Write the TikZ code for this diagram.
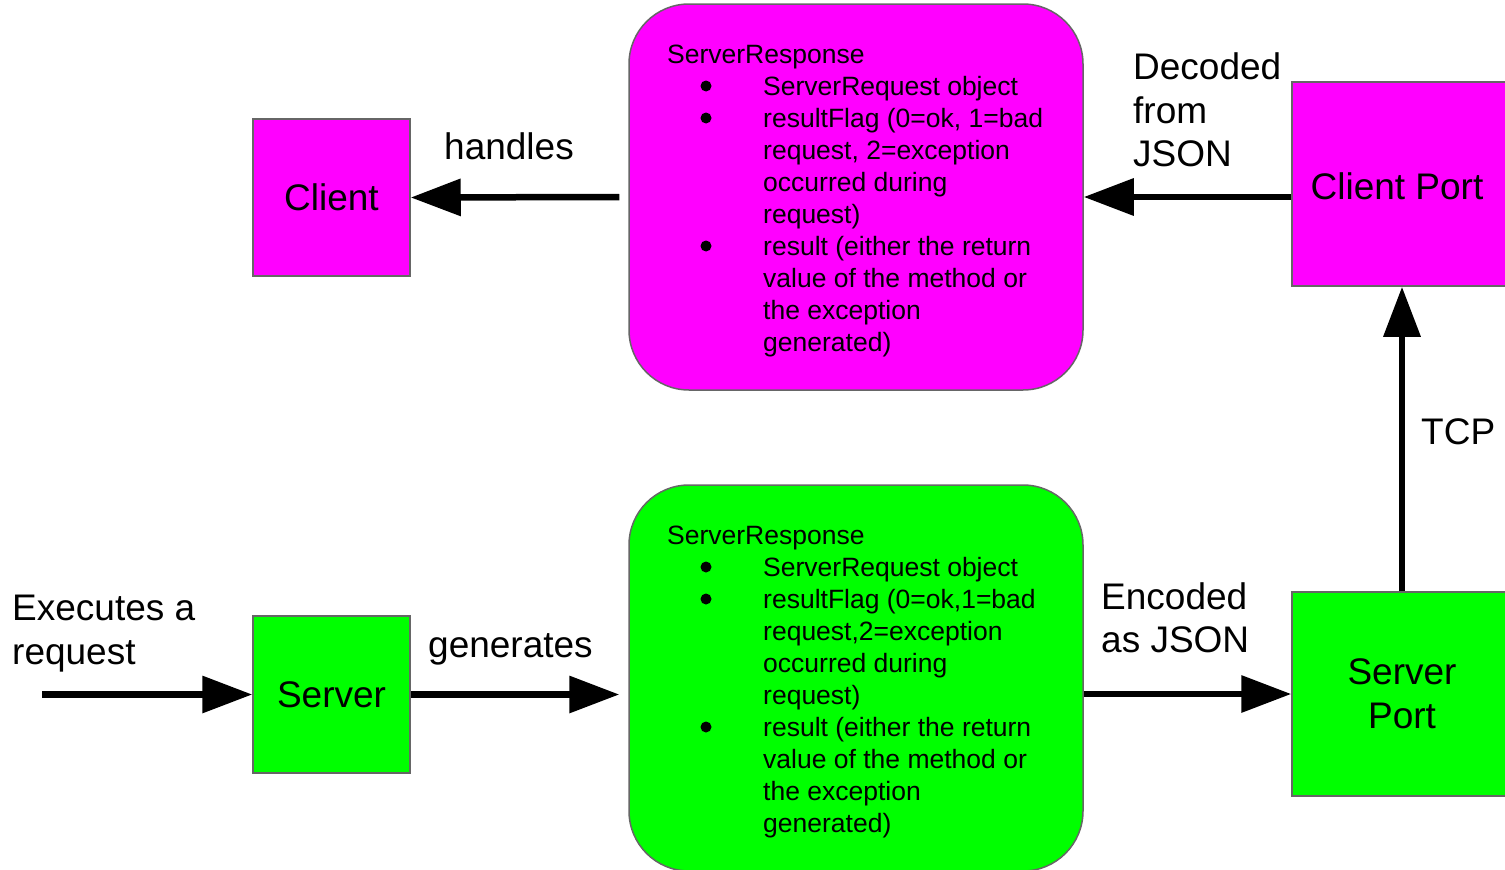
\documentclass[tikz,border=0pt]{standalone}
\usepackage{fontspec}
\setmainfont{Liberation Sans}
\usetikzlibrary{arrows.meta}
\definecolor{mag}{HTML}{FF00FF}
\definecolor{grn}{HTML}{00FF00}
\definecolor{edgegray}{HTML}{666666}
\newcommand{\resplines}[4]{%
  \node[bl] (#1h) at (667,#2+59) {ServerResponse};
  \node[bul] (#1b1) at (706,#2+82) {};
  \node[bl] (#1l1) at (763,#2+91) {ServerRequest object};
  \node[bul] (#1b2) at (706,#2+114) {};
  \node[bl] (#1l2) at (763,#2+123) {#3};
  \node[bl] (#1l3) at (763,#2+155) {#4};
  \node[bl] (#1l4) at (763,#2+187) {occurred during};
  \node[bl] (#1l5) at (763,#2+219) {request)};
  \node[bul] (#1b3) at (706,#2+242) {};
  \node[bl] (#1l6) at (763,#2+251) {result (either the return};
  \node[bl] (#1l7) at (763,#2+283) {value of the method or};
  \node[bl] (#1l8) at (763,#2+315) {the exception};
  \node[bl] (#1l9) at (763,#2+347) {generated)};
}
\begin{document}
\begin{tikzpicture}[x=1pt,y=-1pt,
  box/.style={draw=edgegray,line width=1.5pt,inner sep=0pt,minimum width=157pt,minimum height=157pt,font=\fontsize{37}{44}\selectfont,align=center},
  rbox/.style={draw=edgegray,line width=1.5pt,rounded corners=60pt,inner sep=0pt,minimum width=454pt,minimum height=386pt},
  lbl/.style={font=\fontsize{37}{44}\selectfont,anchor=base west,inner sep=0pt},
  bl/.style={font=\fontsize{26.5}{32}\selectfont,anchor=base west,inner sep=0pt},
  bul/.style={circle,fill=black,inner sep=0pt,minimum size=11pt},
  arr/.style={line width=6.5pt,-{Triangle[length=50pt,width=36pt]}}
]
\path[use as bounding box,clip] (0,0) rectangle (1505,870);
% boxes
\node[box,fill=mag] (client) at (331.5,197.5) {Client};
\node[rbox,fill=mag] (top) at (856,197) {};
\node[box,fill=mag,minimum width=220pt,minimum height=204pt] (cport) at (1402,184) {};
\node[font=\fontsize{37}{44}\selectfont,inner sep=0pt] (cportlbl) at (1397,186) {Client Port};
\node[box,fill=grn] (server) at (331.5,694.5) {Server};
\node[rbox,fill=grn] (bot) at (856,678) {};
\node[box,fill=grn,minimum width=220pt,minimum height=204pt] (sport) at (1402,694) {Server\\Port};
% box contents
\resplines{t}{4}{resultFlag (0=ok, 1=bad}{request, 2=exception}
\resplines{b}{485}{resultFlag (0=ok,1=bad}{request,2=exception}
% labels
\node[lbl] (handles) at (444,159) {handles};
\node[lbl] (dec1) at (1133,79) {Decoded};
\node[lbl] (dec2) at (1133,123) {from};
\node[lbl] (dec3) at (1133,166) {JSON};
\node[lbl] (tcp) at (1421,444) {TCP};
\node[lbl] (exe1) at (12,620) {Executes a};
\node[lbl] (exe2) at (12,664) {request};
\node[lbl] (gen) at (428,657) {generates};
\node[lbl] (enc1) at (1101,609) {Encoded};
\node[lbl] (enc2) at (1101,652) {as JSON};
% connectors
\coordinate (start) at (42,694.5);
\draw[arr] ([xshift=-9pt]top.west) -- (client.east);
\draw[arr] (cport.west |- top.east) -- (top.east);
\draw[arr] (sport.north) -- (cport.south);
\draw[arr] (start) -- (server.west);
\draw[arr] (server.east) -- ([xshift=-9pt]bot.west |- server.east);
\draw[arr] (bot.east |- sport.west) -- (sport.west);
\end{tikzpicture}
\end{document}
